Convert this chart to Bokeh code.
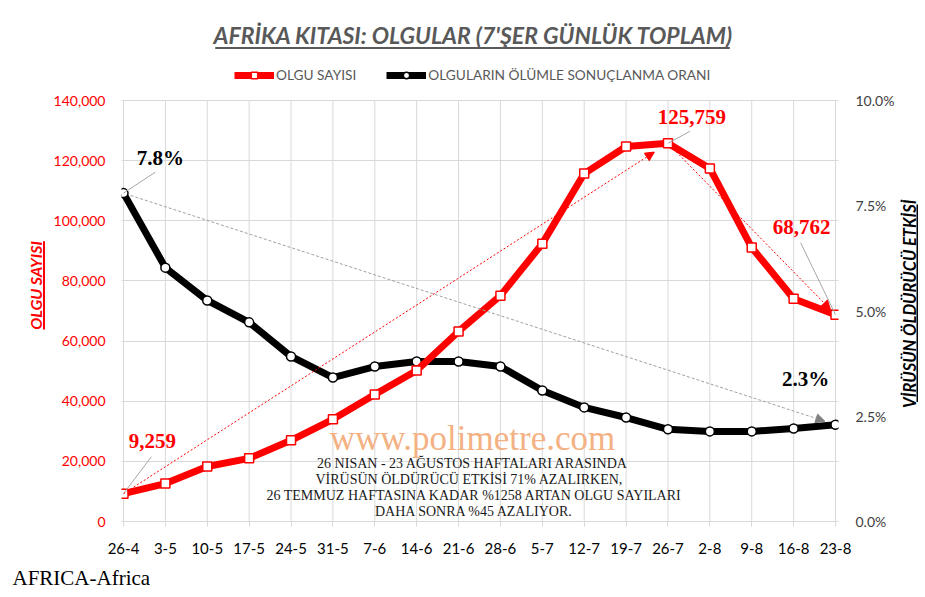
from math import pi
from bokeh.plotting import figure
from bokeh.layouts import row, column
from bokeh.models import (Range1d, LinearAxis, FixedTicker, NumeralTickFormatter, Label,
                          Arrow, NormalHead, BoxAnnotation, Legend, LegendItem)
from bokeh.embed import file_html
from bokeh.resources import INLINE

# ---------------- data ----------------
weeks = ["26-4", "3-5", "10-5", "17-5", "24-5", "31-5", "7-6", "14-6", "21-6", "28-6",
         "5-7", "12-7", "19-7", "26-7", "2-8", "9-8", "16-8", "23-8"]
cases = [9259, 12600, 18300, 21000, 27000, 34000, 42200, 50200, 63200, 75100,
         92400, 115700, 124700, 125759, 117400, 91100, 74100, 68762]
death_rate = [0.078, 0.0603, 0.0525, 0.0473, 0.0392, 0.0342, 0.0368, 0.0380, 0.0380, 0.0368,
              0.0311, 0.0271, 0.0247, 0.0219, 0.0214, 0.0214, 0.0221, 0.023]
left_ticks = [0, 20000, 40000, 60000, 80000, 100000, 120000, 140000]
right_ticks = [0, 0.025, 0.05, 0.075, 0.1]
note_lines = ["26 NISAN - 23 AĞUSTOS  HAFTALARI ARASINDA",
              "VİRÜSÜN  ÖLDÜRÜCÜ  ETKİSİ  71% AZALIRKEN,",
              "26 TEMMUZ HAFTASINA KADAR %1258 ARTAN OLGU SAYILARI",
              "DAHA SONRA %45 AZALIYOR."]
xs = list(range(len(weeks)))

TW, TH = 925, 597
BH = 30                      # bottom strip with the source note
H = TH - BH                  # height of the chart row
LW, RW = 50, 25              # side strips holding the axis titles
MW = TW - LW - RW            # main figure width
# pixel helpers (x index 0 at page 121px, 42px per week; y 0 at 521px, 421px per 140000)
PXW = 42.0
PYH = 140000 / 421.0
def X(page_x):
    return (page_x - 121) / PXW
def Y(page_y):
    return (521 - page_y) * PYH

ytop = Y(0)
fig = figure(width=MW, height=H, output_backend="svg", toolbar_location=None,
             x_range=Range1d(-2 / PXW, 17 + 3 / PXW), y_range=Range1d(0, ytop),
             min_border_left=119 - LW, min_border_right=LW + MW - 838, min_border_top=0,
             min_border_bottom=H - 521)
fig.extra_y_ranges = {"rate": Range1d(0, 0.1 * ytop / 140000)}
fig.outline_line_color = None
fig.background_fill_color = "white"
fig.border_fill_color = "white"

# axes
fig.xaxis.ticker = FixedTicker(ticks=xs)
fig.xaxis.major_label_overrides = {i: w for i, w in enumerate(weeks)}
fig.xaxis.axis_line_color = "#D9D9D9"
fig.xaxis.major_tick_line_color = "#D9D9D9"
fig.xaxis.major_tick_out = 5
fig.xaxis.major_tick_in = 0
fig.xaxis.minor_tick_line_color = None
fig.xaxis.major_label_standoff = 16
fig.xaxis.major_label_text_font = "Lato"
fig.xaxis.major_label_text_font_size = "15px"
fig.xaxis.major_label_text_color = "#000000"

fig.yaxis.ticker = FixedTicker(ticks=left_ticks)
fig.yaxis.formatter = NumeralTickFormatter(format="0,0")
fig.yaxis.axis_line_color = None
fig.yaxis.major_tick_line_color = None
fig.yaxis.minor_tick_line_color = None
fig.yaxis.major_tick_out = 0
fig.yaxis.major_label_standoff = 16
fig.yaxis.major_label_text_font = "Lato"
fig.yaxis.major_label_text_font_size = "14px"
fig.yaxis.major_label_text_color = "#FF0000"

ry = LinearAxis(y_range_name="rate", ticker=FixedTicker(ticks=right_ticks),
                formatter=NumeralTickFormatter(format="0.0%"))
ry.axis_line_color = None
ry.major_tick_line_color = None
ry.minor_tick_line_color = None
ry.major_tick_out = 0
ry.major_label_standoff = 17
ry.major_label_text_font = "Lato"
ry.major_label_text_font_size = "14px"
ry.major_label_text_color = "#404040"
fig.add_layout(ry, "right")

# grid (vertical lines only across the value area)
fig.xgrid.visible = False
fig.segment(x0=xs, y0=[0] * len(xs), x1=xs, y1=[left_ticks[-1]] * len(xs),
            line_color="#D9D9D9", line_width=1)
fig.ygrid.ticker = FixedTicker(ticks=left_ticks)
fig.ygrid.grid_line_color = "#D9D9D9"

# series
bl = fig.line(xs, death_rate, y_range_name="rate", line_color="#000000", line_width=7,
              line_join="round")
bs = fig.scatter(xs, death_rate, y_range_name="rate", marker="circle", size=9,
                 fill_color="white", line_color="#000000", line_width=1.5)
rl = fig.line(xs, cases, line_color="#FF0000", line_width=7, line_join="round")
rs = fig.scatter(xs, cases, marker="square", size=9, fill_color="white",
                 line_color="#FF0000", line_width=1.5)

# trend arrows
def toward(x0, y0, x1, y1, f):
    return x0 + (x1 - x0) * f, y0 + (y1 - y0) * f

pk = cases.index(max(cases))
last = len(weeks) - 1
ex, ey = toward(0, cases[0], pk, cases[pk], 0.975)
fig.add_layout(Arrow(end=NormalHead(size=9, fill_color="#FF0000", line_color="#FF0000"),
                     x_start=0, y_start=cases[0], x_end=ex, y_end=ey,
                     line_color="#FF0000", line_width=1, line_dash="2 2"))
sx, sy = toward(pk, cases[pk], last, cases[last], 0.05)
ex, ey = toward(pk, cases[pk], last, cases[last], 0.97)
fig.add_layout(Arrow(end=NormalHead(size=9, fill_color="#FF0000", line_color="#FF0000"),
                     x_start=sx, y_start=sy, x_end=ex, y_end=ey,
                     line_color="#FF0000", line_width=1, line_dash="2 2"))
sx, sy = toward(0, death_rate[0], last, death_rate[last], 0.01)
ex, ey = toward(0, death_rate[0], last, death_rate[last], 0.985)
fig.add_layout(Arrow(end=NormalHead(size=9, fill_color="#808080", line_color="#808080"),
                     x_start=sx, y_start=sy, x_end=ex, y_end=ey, y_range_name="rate",
                     line_color="#A0A0A0", line_width=1, line_dash="3 2"))

# leader lines (from point toward label)
def lead(xi, yi, dx, dy):
    fig.segment(x0=[xi], y0=[yi], x1=[xi + dx / PXW], y1=[yi + dy * PYH],
                line_color="#A6A6A6", line_width=1)

lead(0, cases[0], 28, 37)
lead(pk, cases[pk], 22, 12)
lead(last, cases[last], -35, 72)
lead(0, death_rate[0] / 0.1 * 140000, 32, 21)

# value labels
def vlabel(x, y, text, color):
    fig.add_layout(Label(x=x, y=y, text=text, text_align="center", text_baseline="middle",
                         text_font="Liberation Serif", text_font_style="bold",
                         text_font_size="21px", text_color=color))

vlabel(X(150), Y(440), f"{cases[0]:,}", "#FF0000")
vlabel(X(691), Y(116), f"{cases[pk]:,}", "#FF0000")
vlabel(X(801), Y(226), f"{cases[last]:,}", "#FF0000")
vlabel(X(158), Y(157), f"{death_rate[0]*100:.1f}%", "#000000")
vlabel(X(805), Y(378), f"{death_rate[last]*100:.1f}%", "#000000")

# watermark & note
fig.add_layout(Label(x=X(471), y=Y(438), text="www.polimetre.com", text_align="center",
                     text_baseline="middle", text_font="Liberation Serif",
                     text_font_size="35px", text_color="#F4B183"))
for i, line in enumerate(note_lines):
    fig.add_layout(Label(x=X(473), y=Y(463 + 16 * i), text=line, text_align="center",
                         text_baseline="middle", text_font="Liberation Serif",
                         text_font_size="14px", text_color="#1a1a1a"))

# title with underline
fig.add_layout(Label(x=X(472), y=Y(34), text="AFRİKA KITASI: OLGULAR (7'ŞER GÜNLÜK TOPLAM)",
                     text_align="center", text_baseline="middle", text_font="Lato",
                     text_font_style="bold italic", text_font_size="23px", text_color="#595959"))
fig.add_layout(BoxAnnotation(left=X(213), right=X(729), top=Y(46.5), bottom=Y(48.5),
                             fill_color="#595959", fill_alpha=1, line_color=None))

# legend
legend = Legend(items=[LegendItem(label="OLGU SAYISI", renderers=[rl, rs]),
                       LegendItem(label="OLGULARIN ÖLÜMLE SONUÇLANMA ORANI", renderers=[bl, bs])],
                location=(113, 438), orientation="horizontal", glyph_width=40, glyph_height=16,
                label_text_font="Lato", label_text_font_size="13.7px", label_text_color="#595959",
                label_standoff=2, spacing=30, padding=0, margin=0,
                background_fill_alpha=0, border_line_color=None)
fig.add_layout(legend)

# side / bottom strips with the underlined axis titles and the source note
def strip(width, height):
    s = figure(width=width, height=height, output_backend="svg", toolbar_location=None,
               x_range=Range1d(0, width), y_range=Range1d(0, height),
               x_axis_location=None, y_axis_location=None, min_border=0)
    s.grid.visible = False
    s.outline_line_color = None
    s.background_fill_color = "white"
    s.border_fill_color = "white"
    return s

left = strip(LW, H)
left.add_layout(Label(x=35, y=H - 310, text="OLGU SAYISI", angle=pi / 2,
                      text_align="center", text_baseline="middle", text_font="Lato",
                      text_font_style="bold italic", text_font_size="16px", text_color="#FF0000"))
left.add_layout(BoxAnnotation(left=42.5, right=44.5, bottom=H - 358, top=H - 262,
                              fill_color="#FF0000", fill_alpha=1, line_color=None))

right = strip(RW, H)
right.add_layout(Label(x=909 - (LW + MW), y=H - 330, text="VİRÜSÜN ÖLDÜRÜCÜ ETKİSİ",
                       angle=pi / 2, text_align="center", text_baseline="middle",
                       text_font="Lato", text_font_style="bold italic",
                       text_font_size="16.5px", text_color="#000000"))
right.add_layout(BoxAnnotation(left=916 - (LW + MW), right=917.5 - (LW + MW),
                               bottom=H - 437, top=H - 222,
                               fill_color="#000000", fill_alpha=1, line_color=None))

bottom = strip(TW, BH)
bottom.add_layout(Label(x=12, y=TH - 577, text="AFRICA-Africa", text_align="left",
                        text_baseline="middle", text_font="Liberation Serif",
                        text_font_size="21px", text_color="#000000"))

p = column(row(left, fig, right, spacing=0), bottom, spacing=0)
open("out.html", "w").write(file_html(p, INLINE))
